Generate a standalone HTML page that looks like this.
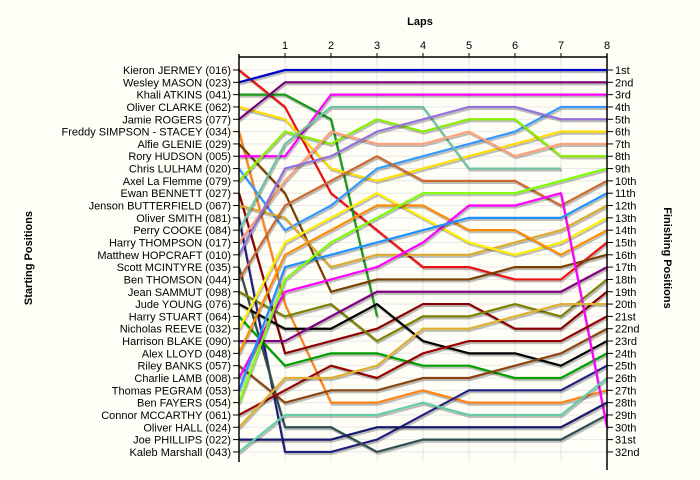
<!DOCTYPE html>
<html><head><meta charset="utf-8"><style>
html,body{margin:0;padding:0;background:#fefef6;}
svg{display:block;font-family:"Liberation Sans",sans-serif;}
</style></head><body>
<svg id="chart" width="700" height="480" xmlns="http://www.w3.org/2000/svg">
<rect x="0" y="0" width="700" height="480" fill="#fefef6"/>
<text x="420" y="25" font-size="11" font-weight="bold" text-anchor="middle">Laps</text>
<text transform="translate(32,258) rotate(-90)" font-size="11" font-weight="bold" text-anchor="middle">Starting Positions</text>
<text transform="translate(664,258) rotate(90)" font-size="11" font-weight="bold" text-anchor="middle">Finishing Positions</text>
<g id="grid"></g>
<g id="lines"></g>
<g id="axes"></g>
</svg>
<script>
const lapTicks = [1,2,3,4,5,6,7,8];
const finishLabels = ["1st","2nd","3rd","4th","5th","6th","7th","8th","9th","10th","11th","12th","13th","14th","15th","16th","17th","18th","19th","20th","21st","22nd","23rd","24th","25th","26th","27th","28th","29th","30th","31st","32nd"];
const driverNames = ["Kieron JERMEY (016)","Wesley MASON (023)","Khali ATKINS (041)","Oliver CLARKE (062)","Jamie ROGERS (077)","Freddy SIMPSON - STACEY (034)","Alfie GLENIE (029)","Rory HUDSON (005)","Chris LULHAM (020)","Axel La Flemme (079)","Ewan BENNETT (027)","Jenson BUTTERFIELD (067)","Oliver SMITH (081)","Perry COOKE (084)","Harry THOMPSON (017)","Matthew HOPCRAFT (010)","Scott MCINTYRE (035)","Ben THOMSON (044)","Jean SAMMUT (098)","Jude YOUNG (076)","Harry STUART (064)","Nicholas REEVE (032)","Harrison BLAKE (090)","Alex LLOYD (048)","Riley BANKS (057)","Charlie LAMB (008)","Thomas PEGRAM (053)","Ben FAYERS (054)","Connor MCCARTHY (061)","Oliver HALL (024)","Joe PHILLIPS (022)","Kaleb Marshall (043)"];
const posKieron=[1,4,11,14,17,17,18,18,15];
const posWesley=[2,1,1,1,1,1,1,1,1];
const posKhali=[3,3,5,21];
const posOliverC=[4,5,9,10,9,8,7,6,6];
const posJamie=[5,2,2,2,2,2,2,2,2];
const posFreddy=[6,20,28,28,27,28,28,28,27];
const posAlfie=[7,11,19,18,18,18,17,17,16];
const posRory=[8,8,3,3,3,3,3,3,3];
const posChris=[9,14,12,9,8,7,6,4,4];
const posAxel=[10,6,7,5,6,5,5,8,8];
const posEwan=[11,24,23,22,20,20,22,22,19];
const posJenson=[12,13,17,16,16,16,15,14,12];
const posOliverS=[13,32,32,31,29,27,27,27,25];
const posPerry=[14,7,4,4,4,9,9,9];
const posHarryT=[15,10,6,7,7,6,8,7,7];
const posMatthew=[16,9,8,6,5,4,4,5,5];
const posScott=[17,30,30,32,31,31,31,31,29];
const posBenT=[18,12,10,8,10,10,10,12,10];
const posJean=[19,21,20,23,21,21,20,21,18];
const posJude=[20,22,22,20,23,24,24,25,23];
const posHarryS=[21,25,24,24,25,25,26,26,24];
const posNicholas=[22,15,13,11,13,15,16,15,13];
const posHarrison=[23,23,21,19,19,19,19,19,17];
const posAlex=[24,16,14,12,12,14,14,16,14];
const posRiley=[25,28,27,27,26,26,25,24,22];
const posCharlie=[26,19,18,17,15,12,12,11,30];
const posThomas=[27,17,16,15,14,13,13,13,11];
const posBenF=[28,18,15,13,11,11,11,10,9];
const posConnor=[29,27,25,26,24,23,23,23,21];
const posOliverH=[30,26,26,25,22,22,21,20,20];
const posJoe=[31,31,31,30,30,30,30,30,28];
const posKaleb=[32,29,29,29,28,29,29,29,26];
const allPositions=[posKieron,posWesley,posKhali,posOliverC,posJamie,posFreddy,posAlfie,posRory,posChris,posAxel,posEwan,posJenson,posOliverS,posPerry,posHarryT,posMatthew,posScott,posBenT,posJean,posJude,posHarryS,posNicholas,posHarrison,posAlex,posRiley,posCharlie,posThomas,posBenF,posConnor,posOliverH,posJoe,posKaleb];
const lineColors=["#ee1111","#0000cc","#179a17","#ffdd00","#780078","#ff8418","#7b3f00","#ff00ff","#3399ff","#88ee00","#8b0000","#dcaa30","#202080","#6cc4a4","#ffa07a","#9370db","#2f4f4f","#cd6a30","#808000","#000000","#00a000","#ffee00","#800080","#ff8c00","#8b4513","#ff00ff","#1e90ff","#7cfc00","#990000","#e0b030","#191970","#66cdaa"];

const NS="http://www.w3.org/2000/svg";
const X0=239,LAPW=46,Y0=70,ROWH=12.32,ROWS=32,TOPY=57,BOTY=462;
function xOf(lap){return X0+lap*LAPW;}
function yOf(p){return Y0+(p-1)*ROWH;}
function mk(tag,attrs,parent){const e=document.createElementNS(NS,tag);for(const k in attrs)e.setAttribute(k,attrs[k]);parent.appendChild(e);return e;}
const grid=document.getElementById('grid'),lines=document.getElementById('lines'),axes=document.getElementById('axes');

for(let p=1;p<=ROWS;p++){
  const g=mk('line',{x1:X0,x2:xOf(8),y1:yOf(p),y2:yOf(p),stroke:'#e8e8e8','stroke-width':1},grid);
  
  
}
lapTicks.forEach(l=>{
  const g=mk('line',{x1:xOf(l),x2:xOf(l),y1:TOPY,y2:BOTY,stroke:'#e4e4e4','stroke-width':1},grid);
  
  
});

allPositions.forEach((arr,i)=>{
  const pts=arr.map((p,l)=>xOf(l)+','+yOf(p)).join(' ');
  const sh=mk('polyline',{points:pts,fill:'none',stroke:'#000','stroke-opacity':0.25,'stroke-width':2.2,transform:'translate(1,2)','stroke-linejoin':'round'},lines);
  
  
  const pl=mk('polyline',{points:pts,fill:'none',stroke:lineColors[i],'stroke-width':2.2,'stroke-linejoin':'round'},lines);
  
  
});

let a=mk('line',{x1:X0,x2:xOf(8),y1:TOPY,y2:TOPY,stroke:'#000','stroke-width':1.5},axes);


a=mk('line',{x1:X0,x2:X0,y1:TOPY-3,y2:BOTY,stroke:'#000','stroke-width':1.5},axes);


a=mk('line',{x1:xOf(8),x2:xOf(8),y1:TOPY-3,y2:BOTY+8,stroke:'#000','stroke-width':1.5},axes);


lapTicks.forEach(l=>{
  const t=mk('line',{x1:xOf(l),x2:xOf(l),y1:TOPY-4,y2:TOPY,stroke:'#000','stroke-width':1},axes);
  
  
  const tx=mk('text',{x:xOf(l),y:TOPY-8,'font-size':11,'text-anchor':'middle'},axes);
  tx.textContent=l;
  
  
});
driverNames.forEach((n,i)=>{
  const t=mk('line',{x1:X0-6,x2:X0,y1:yOf(i+1),y2:yOf(i+1),stroke:'#000','stroke-width':1},axes);
  
  
  const tx=mk('text',{x:X0-8,y:yOf(i+1)+4,'font-size':11,'text-anchor':'end'},axes);
  tx.textContent=n;
  
  
});
finishLabels.forEach((n,i)=>{
  const t=mk('line',{x1:xOf(8),x2:xOf(8)+6,y1:yOf(i+1),y2:yOf(i+1),stroke:'#000','stroke-width':1},axes);
  
  
  const tx=mk('text',{x:xOf(8)+8,y:yOf(i+1)+4,'font-size':11},axes);
  tx.textContent=n;
  
  
});
</script>
</body></html>
